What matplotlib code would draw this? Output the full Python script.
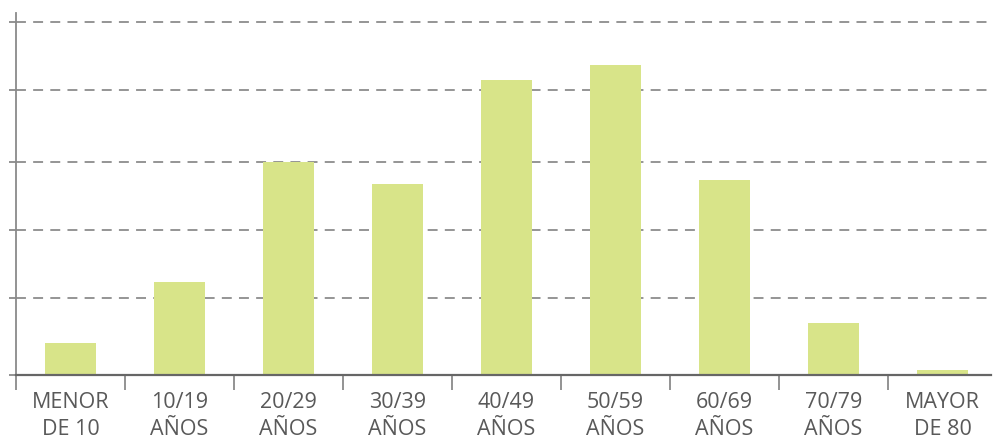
import matplotlib
matplotlib.use("Agg")
import matplotlib.pyplot as plt
from matplotlib.ticker import FixedLocator, NullFormatter

categories = ["MENOR\nDE 10", "10/19\nAÑOS", "20/29\nAÑOS", "30/39\nAÑOS", "40/49\nAÑOS",
              "50/59\nAÑOS", "60/69\nAÑOS", "70/79\nAÑOS", "MAYOR\nDE 80"]
values = [32, 93, 213, 191, 295, 310, 195, 52, 5]
grid_values = [0, 76.7, 145, 213.3, 285, 353.3]

W, H = 994, 442
fig = plt.figure(figsize=(W / 100, H / 100), dpi=100)
ax = fig.add_axes([16 / W, (H - 375) / H, 975 / W, 362 / H])

bar_color = "#d8e489"
axis_color = "#8a8a8a"
text_color = "#595959"

x = list(range(len(categories)))
ax.bar(x, values, width=0.477, color=bar_color, zorder=2)

ax.set_xlim(-0.5, -0.5 + 975 / 109)
ax.set_ylim(0, 362)

# grid
ax.set_yticks(grid_values)
ax.yaxis.set_major_formatter(NullFormatter())
ax.tick_params(axis="y", length=5, width=1.3, color=axis_color, direction="out")
for gv in grid_values[1:]:
    ax.axhline(gv, color="#8c8c8c", lw=1.3, dashes=(5.5, 4), zorder=1)

# x ticks at boundaries, labels at centers
ax.xaxis.set_major_locator(FixedLocator([i - 0.5 for i in range(len(categories))]))
ax.xaxis.set_major_formatter(NullFormatter())
ax.xaxis.set_minor_locator(FixedLocator(x))
ax.set_xticklabels(categories, minor=True)
ax.tick_params(axis="x", which="major", length=11, width=1.3, color=axis_color, direction="out")
ax.tick_params(axis="x", which="minor", length=0, pad=12, labelsize=15.5, labelcolor=text_color)
for lab in ax.get_xticklabels(minor=True):
    lab.set_fontfamily("Open Sans")
    lab.set_linespacing(1.4)

for s in ["top", "right"]:
    ax.spines[s].set_visible(False)
ax.spines["left"].set_color(axis_color)
ax.spines["left"].set_linewidth(1.3)
ax.spines["bottom"].set_color("#666666")
ax.spines["bottom"].set_linewidth(1.6)
ax.spines["bottom"].set_zorder(3)

fig.savefig("out.png", dpi=100)
